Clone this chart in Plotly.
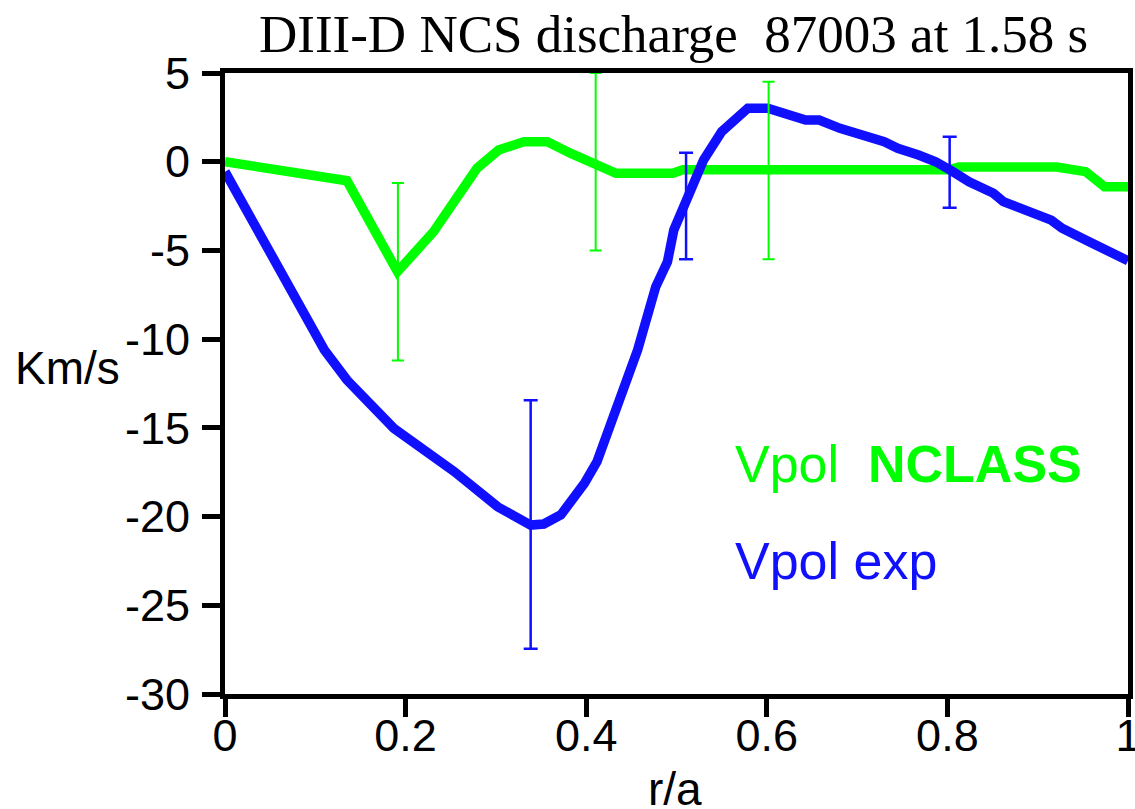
import plotly.graph_objects as go

# Radial coordinate r/a and poloidal rotation profiles (km/s)
r_nclass = [0, 0.135, 0.191, 0.231, 0.279, 0.303, 0.331, 0.357, 0.383, 0.409,
            0.433, 0.496, 0.507, 0.802, 0.813, 0.921, 0.953, 0.974, 1.0]
v_nclass = [0, -1.07, -6.2, -3.94, -0.37, 0.66, 1.13, 1.13, 0.47, -0.09,
            -0.65, -0.65, -0.45, -0.45, -0.3, -0.3, -0.56, -1.41, -1.41]

r_exp = [0, 0.11, 0.135, 0.187, 0.254, 0.302, 0.3385, 0.353, 0.372, 0.398,
         0.412, 0.431, 0.457, 0.477, 0.49, 0.497, 0.511, 0.53, 0.55, 0.571,
         0.579, 0.601, 0.643, 0.658, 0.681, 0.730, 0.745, 0.768, 0.787, 0.806,
         0.824, 0.851, 0.862, 0.915, 0.927, 0.957, 1.0]
v_exp = [-0.56, -10.6, -12.3, -15.03, -17.47, -19.45, -20.48, -20.42, -19.9, -18.13,
         -16.9, -14.37, -10.6, -7.05, -5.64, -3.85, -2.25, 0.1, 1.69, 2.73,
         3.01, 3.01, 2.35, 2.35, 1.88, 1.13, 0.76, 0.38, 0.0, -0.56,
         -1.13, -1.78, -2.25, -3.29, -3.75, -4.51, -5.58]

# Representative uncertainties
r_err_nclass = [0.1915, 0.4105, 0.602]
v_err_nclass = [-6.2, 0.0, -0.5]
e_nclass = [5, 5, 5]

r_err_exp = [0.3385, 0.5106, 0.8025]
v_err_exp = [-20.45, -2.5, -0.6]
e_exp = [7, 3, 2]

x_ticks = [0, 0.2, 0.4, 0.6, 0.8, 1.0]
x_ticktext = ["0", "0.2", "0.4", "0.6", "0.8", "1"]
y_ticks = [-30, -25, -20, -15, -10, -5, 0, 5]
y_ticktext = ["-30", "-25", "-20", "-15", "-10", "-5", "0", "5"]

GREEN = "#00ff00"
BLUE = "#1010ff"
SANS = "Liberation Sans, Arial, sans-serif"
SERIF = "Liberation Serif, Times New Roman, serif"

fig = go.Figure()

fig.add_trace(go.Scatter(x=r_nclass, y=v_nclass, mode="lines",
                         line=dict(color=GREEN, width=9.5), showlegend=False))
fig.add_trace(go.Scatter(x=r_exp, y=v_exp, mode="lines",
                         line=dict(color=BLUE, width=9.5), showlegend=False))

fig.add_trace(go.Scatter(x=r_err_nclass, y=v_err_nclass, mode="markers",
                         marker=dict(size=1, opacity=0),
                         error_y=dict(type="data", array=e_nclass, color=GREEN,
                                      thickness=2, width=6),
                         showlegend=False))
fig.add_trace(go.Scatter(x=r_err_exp, y=v_err_exp, mode="markers",
                         marker=dict(size=1, opacity=0),
                         error_y=dict(type="data", array=e_exp, color=BLUE,
                                      thickness=2.5, width=7),
                         showlegend=False))

L, R, T, B = 225, 7, 73, 115
W, H = 1135, 809
pw, ph = W - L - R, H - T - B


def px(x):
    return (x - L) / pw


def py(y):
    return (H - B - y) / ph


axis_common = dict(showline=True, linecolor="black", linewidth=5, mirror=True,
                   ticks="outside", ticklen=18, tickwidth=5, tickcolor="black",
                   showgrid=False, zeroline=False, ticklabeloverflow="allow",
                   automargin=False,
                   tickfont=dict(family=SANS, size=45, color="black"))

fig.update_xaxes(range=[0, 1], tickvals=x_ticks, ticktext=x_ticktext,
                 ticklabelstandoff=-20, **axis_common)
fig.update_yaxes(range=[-30, 5], tickvals=y_ticks, ticktext=y_ticktext,
                 ticklabelstandoff=3, **axis_common)

annotations = [
    dict(text="DIII-D NCS discharge&nbsp;&nbsp;87003 at 1.58 s", x=px(673), y=py(34),
         xanchor="center", yanchor="middle",
         font=dict(family=SERIF, size=53, color="black")),
    dict(text="Km/s", x=px(13), y=py(368), xanchor="left", yanchor="middle",
         font=dict(family=SANS, size=46, color="black")),
    dict(text="r/a", x=px(675), y=py(789), xanchor="center", yanchor="middle",
         font=dict(family=SANS, size=46, color="black")),
    dict(text="Vpol&nbsp;&nbsp;<b>NCLASS</b>", x=px(733), y=py(464),
         xanchor="left", yanchor="middle",
         font=dict(family=SANS, size=52, color=GREEN)),
    dict(text="Vpol exp", x=px(733), y=py(561), xanchor="left", yanchor="middle",
         font=dict(family=SANS, size=52, color=BLUE)),
]
for a in annotations:
    a.update(xref="paper", yref="paper", showarrow=False)

fig.update_layout(width=W, height=H,
                  margin=dict(l=L, r=R, t=T, b=B, pad=0, autoexpand=False),
                  paper_bgcolor="white", plot_bgcolor="white",
                  annotations=annotations)

fig.write_html("out.html")
